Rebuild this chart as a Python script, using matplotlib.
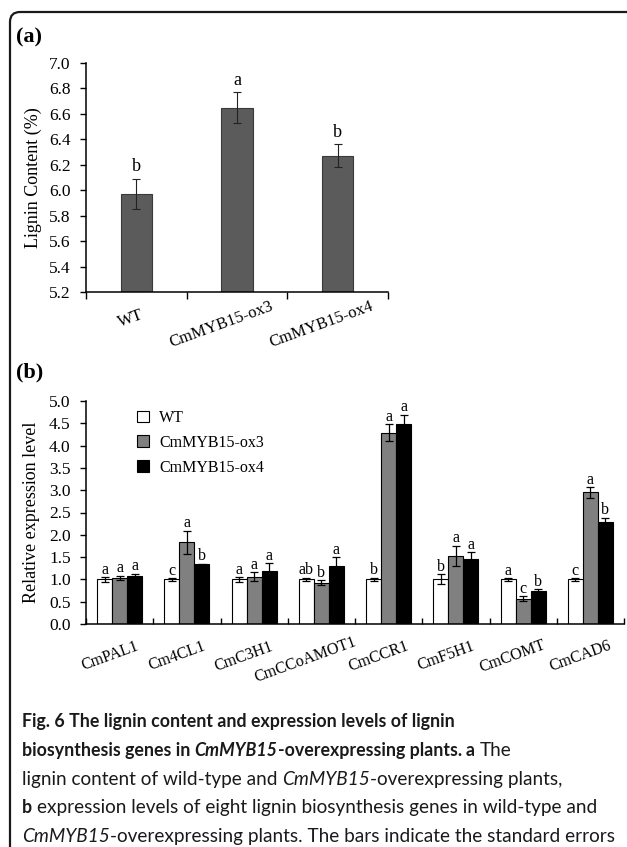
import matplotlib
matplotlib.use('Agg')
import matplotlib.pyplot as plt
import numpy as np
from matplotlib.path import Path
from matplotlib.patches import PathPatch, Patch
from matplotlib.transforms import IdentityTransform

W, H = 627, 847
DPI = 100
SERIF = ['Liberation Serif', 'DejaVu Serif']
SANS = ['Lato', 'DejaVu Sans']

# ---------------- data ----------------
a_groups = ['WT', 'CmMYB15-ox3', 'CmMYB15-ox4']
a_values = [5.97, 6.65, 6.27]
a_errors = [0.12, 0.12, 0.09]
a_letters = ['b', 'a', 'b']
a_yticks = [5.2, 5.4, 5.6, 5.8, 6.0, 6.2, 6.4, 6.6, 6.8, 7.0]

genes = ['CmPAL1', 'Cm4CL1', 'CmC3H1', 'CmCCoAMOT1', 'CmCCR1', 'CmF5H1', 'CmCOMT', 'CmCAD6']
series_names = ['WT', 'CmMYB15-ox3', 'CmMYB15-ox4']
wt_vals = [1.00, 1.00, 1.00, 1.00, 1.00, 1.00, 1.00, 1.00]
wt_err = [0.05, 0.03, 0.05, 0.04, 0.04, 0.11, 0.03, 0.03]
ox3_vals = [1.03, 1.83, 1.06, 0.93, 4.29, 1.53, 0.57, 2.95]
ox3_err = [0.05, 0.26, 0.10, 0.05, 0.19, 0.22, 0.05, 0.12]
ox4_vals = [1.08, 1.34, 1.18, 1.30, 4.49, 1.45, 0.75, 2.28]
ox4_err = [0.05, 0.01, 0.18, 0.20, 0.20, 0.16, 0.03, 0.10]
wt_letters = ['a', 'c', 'a', 'ab', 'b', 'b', 'a', 'c']
ox3_letters = ['a', 'a', 'a', 'b', 'a', 'a', 'c', 'a']
ox4_letters = ['a', 'b', 'a', 'a', 'a', 'a', 'b', 'b']
b_yticks = [0.0, 0.5, 1.0, 1.5, 2.0, 2.5, 3.0, 3.5, 4.0, 4.5, 5.0]

caption_lines = [
    [("Fig. 6 The lignin content and expression levels of lignin", 'bold', 'normal', False)],
    [("biosynthesis genes in", 'bold', 'normal', False), ("CmMYB15", 'bold', 'italic', True),
     ("-overexpressing plants.", 'bold', 'normal', False), ("a", 'bold', 'normal', True),
     ("The", 'normal', 'normal', True)],
    [("lignin content of wild-type and", 'normal', 'normal', False), ("CmMYB15", 'normal', 'italic', True),
     ("-overexpressing plants,", 'normal', 'normal', False)],
    [("b", 'bold', 'normal', False),
     ("expression levels of eight lignin biosynthesis genes in wild-type and", 'normal', 'normal', True)],
    [("CmMYB15", 'normal', 'italic', False),
     ("-overexpressing plants. The bars indicate the standard errors", 'normal', 'normal', False)],
]

fig = plt.figure(figsize=(W / DPI, H / DPI), dpi=DPI)
fig.patch.set_facecolor('white')
renderer = fig.canvas.get_renderer()


def px_axes(left, top, right, bottom):
    return fig.add_axes([left / W, 1 - bottom / H, (right - left) / W, (bottom - top) / H])


def measure(s, **kw):
    t = fig.text(0, 0, s, **kw)
    w = t.get_window_extent(renderer).width
    t.remove()
    return w


def rotated_labels(ax, labels, axis_y_px, gap, size, rot):
    for i, g in enumerate(labels):
        L = measure(g, family=SERIF, fontsize=size)
        xc = ax.transData.transform((i, 0))[0]
        cx = xc - 2 - 0.128 * L
        cy = H - (axis_y_px + gap + 0.07 * L)
        fig.text(cx, cy, g, transform=IdentityTransform(), rotation=rot, rotation_mode='anchor',
                 ha='center', va='center', family=SERIF, fontsize=size)


# ---------------- border ----------------
r = 10
bx, by = 10, H - 12
verts = [(bx, -10), (bx, by - r), (bx, by), (bx + r, by), (W + 20, by)]
codes = [Path.MOVETO, Path.LINETO, Path.CURVE3, Path.CURVE3, Path.LINETO]
fig.add_artist(PathPatch(Path(verts, codes), transform=IdentityTransform(), fill=False,
                         lw=1.6, edgecolor='#1a1a1a'))

fig.text(16 / W, 1 - 37 / H, '(a)', family=SERIF, fontsize=16, fontweight='bold', va='center', ha='left')
fig.text(16 / W, 1 - 372 / H, '(b)', family=SERIF, fontsize=16, fontweight='bold', va='center', ha='left')

# ---------------- panel a ----------------
ax1 = px_axes(86, 63, 388, 292)
xa = np.arange(len(a_groups))
ax1.bar(xa, a_values, width=0.31, color='#5b5b5b', edgecolor='#3a3a3a', lw=0.8,
        yerr=a_errors, capsize=3, error_kw=dict(elinewidth=0.8, capthick=0.8, ecolor='#222222'))
ax1.set_xlim(-0.5, len(a_groups) - 0.5)
ax1.set_ylim(a_yticks[0], a_yticks[-1])
ax1.set_yticks(a_yticks)
ax1.set_yticklabels(['%.1f' % v for v in a_yticks], family=SERIF, fontsize=12.5)
ax1.set_xticks(xa)
ax1.set_xticklabels([])
ax1.tick_params(axis='x', which='major', length=0)
ax1.set_xticks(np.arange(len(a_groups) + 1) - 0.5, minor=True)
ax1.tick_params(axis='x', which='minor', direction='out', length=5, width=1)
ax1.tick_params(axis='y', direction='out', length=4, width=1, pad=7)
for s in ['top', 'right']:
    ax1.spines[s].set_visible(False)
for s in ['left', 'bottom']:
    ax1.spines[s].set_linewidth(1.1)
ax1.set_ylabel('Lignin Content (%)', family=SERIF, fontsize=13)
ax1.yaxis.set_label_coords((42 - 86) / 302, 0.5)
for i, (v, e, l) in enumerate(zip(a_values, a_errors, a_letters)):
    ax1.annotate(l, xy=(i, v + e), xytext=(0, 5.5), textcoords='offset points',
                 ha='center', va='baseline', family=SERIF, fontsize=13)

# ---------------- panel b ----------------
ax2 = px_axes(86, 401, 624, 624)
xb = np.arange(len(genes))
bw = 0.223
series = [(wt_vals, wt_err, wt_letters, 'white'),
          (ox3_vals, ox3_err, ox3_letters, '#808080'),
          (ox4_vals, ox4_err, ox4_letters, 'black')]
handles = []
for k, (vals, errs, lets, col) in enumerate(series):
    pos = xb + (k - 1) * bw
    ax2.bar(pos, vals, width=bw, color=col, edgecolor='black', lw=0.8,
            yerr=errs, capsize=3.2, error_kw=dict(elinewidth=0.9, capthick=0.9, ecolor='black'))
    for p, v, e, l in zip(pos, vals, errs, lets):
        ax2.annotate(l, xy=(p, v + e), xytext=(0, 2.5), textcoords='offset points',
                     ha='center', va='baseline', family=SERIF, fontsize=11.5)
    handles.append(Patch(facecolor=col, edgecolor='black', lw=0.8))
ax2.set_xlim(-0.5, len(genes) - 0.5)
ax2.set_ylim(b_yticks[0], b_yticks[-1])
ax2.set_yticks(b_yticks)
ax2.set_yticklabels(['%.1f' % v for v in b_yticks], family=SERIF, fontsize=12.5)
ax2.set_xticks(xb)
ax2.set_xticklabels([])
ax2.tick_params(axis='x', which='major', length=0)
ax2.set_xticks(np.arange(len(genes) + 1) - 0.5, minor=True)
ax2.tick_params(axis='x', which='minor', direction='in', length=4, width=1)
ax2.tick_params(axis='y', direction='out', length=4, width=1, pad=7)
for s in ['top', 'right']:
    ax2.spines[s].set_visible(False)
for s in ['left', 'bottom']:
    ax2.spines[s].set_linewidth(1.1)
ax2.set_ylabel('Relative expression level', family=SERIF, fontsize=13)
ax2.yaxis.set_label_coords((40 - 86) / 538, 0.5)
leg = ax2.legend(handles, series_names, loc='upper left', bbox_to_anchor=(137 / W, 1 - 410 / H),
                 bbox_transform=fig.transFigure, frameon=False, handlelength=0.75, handleheight=0.75,
                 handletextpad=0.65, labelspacing=0.55, borderpad=0, borderaxespad=0,
                 prop=dict(family=SERIF, size=11.5))

rotated_labels(ax1, a_groups, 292, 25, 12, 20)
rotated_labels(ax2, genes, 624, 28, 11.5, 20)

# ---------------- caption ----------------
base = 10.0
wb = measure(caption_lines[0][0][0], family=SANS, fontsize=base, fontweight='bold')
bold_size = base * (453 - 22) / wb
wr = sum(measure(s, family=SANS, fontsize=base, fontweight=w, fontstyle=st)
         for s, w, st, sp in caption_lines[4])
reg_size = base * (617 - 22) / wr


def sz(weight):
    return bold_size if weight == 'bold' else reg_size


x0 = 22
baselines = [727, 756, 785, 813, 842]
for line, yb in zip(caption_lines, baselines):
    x = x0
    for s, weight, style, sp in line:
        if sp:
            x += (measure('a a', family=SANS, fontsize=sz(weight), fontweight=weight)
                  - measure('aa', family=SANS, fontsize=sz(weight), fontweight=weight))
        t = fig.text(x, H - yb, s, transform=IdentityTransform(), family=SANS, fontsize=sz(weight),
                     fontweight=weight, fontstyle=style, va='baseline', ha='left', color='#1a1a1a')
        x += t.get_window_extent(renderer).width

fig.savefig('out.png', dpi=DPI, facecolor='white')
